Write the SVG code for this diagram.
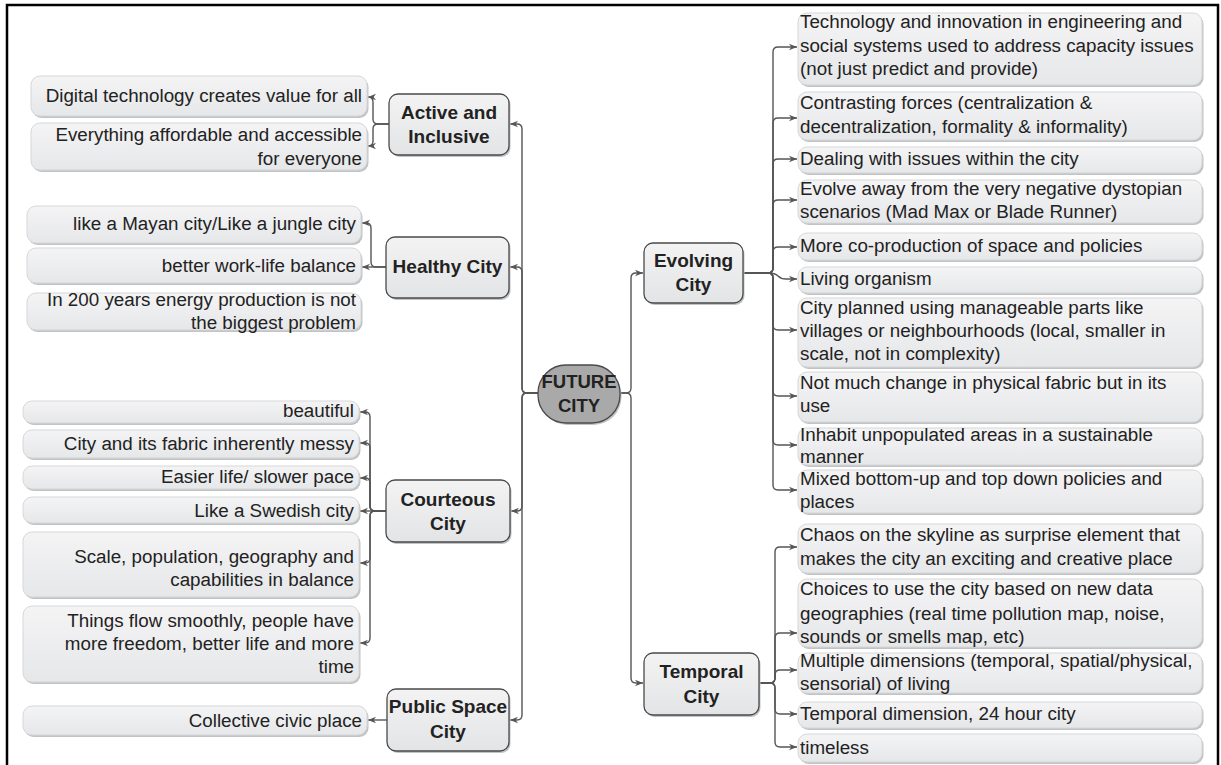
<svg xmlns="http://www.w3.org/2000/svg" width="1221" height="765" viewBox="0 0 1221 765">
<style>
.frame{fill:#fff;stroke:#000;stroke-width:2.5}
.sh{fill:#c2c3c5}
.leaf{fill:url(#lg);stroke:#d6d7d9;stroke-width:1}
.node{fill:url(#ng);stroke:#4a4a4a;stroke-width:1.3}
.center{fill:#a9a9a9;stroke:#4a4a4a;stroke-width:1.3}
.t{font-family:"Liberation Sans",Arial,sans-serif;font-size:18.8px;fill:#222}
.r{text-anchor:end}
.b{font-family:"Liberation Sans",Arial,sans-serif;font-size:19px;font-weight:bold;fill:#222;text-anchor:middle}
.bc{font-size:18.5px}
.c{fill:none;stroke:#555;stroke-width:1.4;marker-end:url(#ah)}
</style>
<defs>
<linearGradient id="lg" x1="0" y1="0" x2="0" y2="1"><stop offset="0" stop-color="#f4f4f5"/><stop offset="1" stop-color="#e6e7e9"/></linearGradient>
<linearGradient id="ng" x1="0" y1="0" x2="0" y2="1"><stop offset="0" stop-color="#f3f3f3"/><stop offset="1" stop-color="#e3e4e6"/></linearGradient>
<marker id="ah" viewBox="0 0 10 10" refX="10" refY="5" markerWidth="8" markerHeight="8" markerUnits="userSpaceOnUse" orient="auto"><path d="M0,1 L10,5 L0,9 L3,5 z" fill="#555"/></marker>
</defs>
<rect class="frame" x="7" y="5" width="1211" height="800"/>

<g id="connectors">
<path class="c" d="M538,393 H527 Q522,393 522,388 V129 Q522,124 517,124 H510"/>
<path class="c" d="M538,393 H527 Q522,393 522,388 V272 Q522,267 517,267 H510"/>
<path class="c" d="M538,393 H527 Q522,393 522,398 V506 Q522,511 517,511 H511"/>
<path class="c" d="M538,393 H527 Q522,393 522,398 V715 Q522,720 517,720 H510"/>
<path class="c" d="M620,393 H626 Q631,393 631,388 V278 Q631,273 636,273 H643"/>
<path class="c" d="M620,393 H626 Q631,393 631,398 V678 Q631,683 636,683 H643"/>
<path class="c" d="M389,124 H378 Q373,124 373,119 V102 Q373,97 368,97"/>
<path class="c" d="M389,124 H378 Q373,124 373,129 V141 Q373,146 368,146"/>
<path class="c" d="M386,267 H376 Q371,267 371,262 V228 Q371,223 366,223 H362"/>
<path class="c" d="M386,267 H362"/>
<path class="c" d="M386,511 H375 Q370,511 370,506 V417 Q370,412 365,412 H360"/>
<path class="c" d="M386,511 H375 Q370,511 370,506 V448 Q370,443 365,443 H360"/>
<path class="c" d="M386,511 H375 Q370,511 370,506 V483 Q370,478 365,478 H360"/>
<path class="c" d="M386,511 H360"/>
<path class="c" d="M386,511 H375 Q370,511 370,516 V558 Q370,563 365,563 H360"/>
<path class="c" d="M386,511 H375 Q370,511 370,516 V638 Q370,643 365,643 H360"/>
<path class="c" d="M387,720 H368"/>
<path class="c" d="M743,273 H768 Q773,273 773,268 V52 Q773,47 778,47 H797"/>
<path class="c" d="M743,273 H768 Q773,273 773,268 V123 Q773,118 778,118 H797"/>
<path class="c" d="M743,273 H768 Q773,273 773,268 V164 Q773,159 778,159 H797"/>
<path class="c" d="M743,273 H768 Q773,273 773,268 V205 Q773,200 778,200 H797"/>
<path class="c" d="M743,273 H768 Q773,273 773,268 V252 Q773,247 778,247 H797"/>
<path class="c" d="M743,273 H768 Q775,273 778,276 Q781,279 786,279 H797"/>
<path class="c" d="M743,273 H768 Q773,273 773,278 V325 Q773,330 778,330 H797"/>
<path class="c" d="M743,273 H768 Q773,273 773,278 V391 Q773,396 778,396 H797"/>
<path class="c" d="M743,273 H768 Q773,273 773,278 V440 Q773,445 778,445 H797"/>
<path class="c" d="M743,273 H768 Q773,273 773,278 V485 Q773,490 778,490 H797"/>
<path class="c" d="M759,683 H770 Q775,683 775,678 V552 Q775,547 780,547 H797"/>
<path class="c" d="M759,683 H770 Q775,683 775,678 V638 Q775,633 780,633 H797"/>
<path class="c" d="M759,683 H770 Q775,683 775,678 V675 Q775,670 780,670 H797"/>
<path class="c" d="M759,683 H770 Q775,683 775,688 V709 Q775,714 780,714 H797"/>
<path class="c" d="M759,683 H770 Q775,683 775,688 V742 Q775,747 780,747 H797"/>
</g>

<g id="center">
<rect class="sh" x="539.5" y="367" width="82" height="58" rx="28"/>
<rect class="center" x="538" y="365" width="82" height="58" rx="28"/>
<text class="b bc" x="579" y="388">FUTURE</text>
<text class="b bc" x="579" y="412">CITY</text>
</g>

<g id="active">
<rect class="sh" x="390.5" y="96" width="120" height="61" rx="9"/>
<rect class="node" x="389" y="94" width="120" height="61" rx="9"/>
<text class="b" x="449" y="119">Active and</text>
<text class="b" x="449" y="143">Inclusive</text>
</g>
<g id="healthy">
<rect class="sh" x="387.5" y="239" width="123" height="61" rx="9"/>
<rect class="node" x="386" y="237" width="123" height="61" rx="9"/>
<text class="b" x="447.5" y="273">Healthy City</text>
</g>
<g id="courteous">
<rect class="sh" x="387.5" y="482" width="124" height="62" rx="9"/>
<rect class="node" x="386" y="480" width="124" height="62" rx="9"/>
<text class="b" x="448" y="506">Courteous</text>
<text class="b" x="448" y="530">City</text>
</g>
<g id="public">
<rect class="sh" x="388.5" y="691" width="122" height="62" rx="9"/>
<rect class="node" x="387" y="689" width="122" height="62" rx="9"/>
<text class="b" x="448" y="713">Public Space</text>
<text class="b" x="448" y="738">City</text>
</g>
<g id="evolving">
<rect class="sh" x="645.5" y="245" width="99" height="60" rx="9"/>
<rect class="node" x="644" y="243" width="99" height="60" rx="9"/>
<text class="b" x="693.5" y="267">Evolving</text>
<text class="b" x="693.5" y="291">City</text>
</g>
<g id="temporal">
<rect class="sh" x="645.5" y="655" width="115" height="62" rx="9"/>
<rect class="node" x="644" y="653" width="115" height="62" rx="9"/>
<text class="b" x="701.5" y="678">Temporal</text>
<text class="b" x="701.5" y="703">City</text>
</g>

<g id="a1"><rect class="sh" x="32.5" y="78" width="336" height="40" rx="9"/><rect class="leaf" x="31" y="76" width="336" height="40" rx="9"/>
<text class="t r" x="362" y="102">Digital technology creates value for all</text></g>
<g id="a2"><rect class="sh" x="32.5" y="125" width="336" height="47" rx="9"/><rect class="leaf" x="31" y="123" width="336" height="47" rx="9"/>
<text class="t r" x="362" y="141">Everything affordable and accessible</text><text class="t r" x="362" y="165">for everyone</text></g>
<g id="h1"><rect class="sh" x="28.5" y="208" width="334" height="37" rx="9"/><rect class="leaf" x="27" y="206" width="334" height="37" rx="9"/>
<text class="t r" x="356" y="230">like a Mayan city/Like a jungle city</text></g>
<g id="h2"><rect class="sh" x="28.5" y="250" width="334" height="35" rx="9"/><rect class="leaf" x="27" y="248" width="334" height="35" rx="9"/>
<text class="t r" x="356" y="272">better work-life balance</text></g>
<g id="h3"><rect class="sh" x="28.5" y="295" width="334" height="37" rx="9"/><rect class="leaf" x="27" y="293" width="334" height="37" rx="9"/>
<text class="t r" x="356" y="306">In 200 years energy production is not</text><text class="t r" x="356" y="329">the biggest problem</text></g>
<g id="c1"><rect class="sh" x="24.5" y="403" width="336" height="22" rx="9"/><rect class="leaf" x="23" y="401" width="336" height="22" rx="9"/>
<text class="t r" x="354" y="417">beautiful</text></g>
<g id="c2"><rect class="sh" x="24.5" y="432" width="336" height="28" rx="9"/><rect class="leaf" x="23" y="430" width="336" height="28" rx="9"/>
<text class="t r" x="354" y="450">City and its fabric inherently messy</text></g>
<g id="c3"><rect class="sh" x="24.5" y="468" width="336" height="23" rx="9"/><rect class="leaf" x="23" y="466" width="336" height="23" rx="9"/>
<text class="t r" x="354" y="483">Easier life/ slower pace</text></g>
<g id="c4"><rect class="sh" x="24.5" y="499" width="336" height="26" rx="9"/><rect class="leaf" x="23" y="497" width="336" height="26" rx="9"/>
<text class="t r" x="354" y="517">Like a Swedish city</text></g>
<g id="c5"><rect class="sh" x="24.5" y="534" width="336" height="65" rx="9"/><rect class="leaf" x="23" y="532" width="336" height="65" rx="9"/>
<text class="t r" x="354" y="563">Scale, population, geography and</text><text class="t r" x="354" y="586">capabilities in balance</text></g>
<g id="c6"><rect class="sh" x="24.5" y="608" width="336" height="76" rx="9"/><rect class="leaf" x="23" y="606" width="336" height="76" rx="9"/>
<text class="t r" x="354" y="627">Things flow smoothly, people have</text><text class="t r" x="354" y="650">more freedom, better life and more</text><text class="t r" x="354" y="673">time</text></g>
<g id="p1"><rect class="sh" x="24.5" y="708" width="344" height="29" rx="9"/><rect class="leaf" x="23" y="706" width="344" height="29" rx="9"/>
<text class="t r" x="362" y="727">Collective civic place</text></g>

<g id="e1"><rect class="sh" x="799.5" y="15" width="404" height="72" rx="9"/><rect class="leaf" x="798" y="13" width="404" height="72" rx="9"/>
<text class="t" x="800" y="28">Technology and innovation in engineering and</text><text class="t" x="800" y="52">social systems used to address capacity issues</text><text class="t" x="800" y="75">(not just predict and provide)</text></g>
<g id="e2"><rect class="sh" x="799.5" y="94" width="404" height="48" rx="9"/><rect class="leaf" x="798" y="92" width="404" height="48" rx="9"/>
<text class="t" x="800" y="109">Contrasting forces (centralization &amp;</text><text class="t" x="800" y="133">decentralization, formality &amp; informality)</text></g>
<g id="e3"><rect class="sh" x="799.5" y="149" width="404" height="26" rx="9"/><rect class="leaf" x="798" y="147" width="404" height="26" rx="9"/>
<text class="t" x="800" y="165">Dealing with issues within the city</text></g>
<g id="e4"><rect class="sh" x="799.5" y="182" width="404" height="43" rx="9"/><rect class="leaf" x="798" y="180" width="404" height="43" rx="9"/>
<text class="t" x="800" y="195">Evolve away from the very negative dystopian</text><text class="t" x="800" y="218">scenarios (Mad Max or Blade Runner)</text></g>
<g id="e5"><rect class="sh" x="799.5" y="235" width="404" height="27" rx="9"/><rect class="leaf" x="798" y="233" width="404" height="27" rx="9"/>
<text class="t" x="800" y="252">More co-production of space and policies</text></g>
<g id="e6"><rect class="sh" x="799.5" y="269" width="404" height="26" rx="9"/><rect class="leaf" x="798" y="267" width="404" height="26" rx="9"/>
<text class="t" x="800" y="285">Living organism</text></g>
<g id="e7"><rect class="sh" x="799.5" y="300" width="404" height="69" rx="9"/><rect class="leaf" x="798" y="298" width="404" height="69" rx="9"/>
<text class="t" x="800" y="314">City planned using manageable parts like</text><text class="t" x="800" y="337">villages or neighbourhoods (local, smaller in</text><text class="t" x="800" y="360">scale, not in complexity)</text></g>
<g id="e8"><rect class="sh" x="799.5" y="374" width="404" height="50" rx="9"/><rect class="leaf" x="798" y="372" width="404" height="50" rx="9"/>
<text class="t" x="800" y="389">Not much change in physical fabric but in its</text><text class="t" x="800" y="412">use</text></g>
<g id="e9"><rect class="sh" x="799.5" y="430" width="404" height="37" rx="9"/><rect class="leaf" x="798" y="428" width="404" height="37" rx="9"/>
<text class="t" x="800" y="441">Inhabit unpopulated areas in a sustainable</text><text class="t" x="800" y="463">manner</text></g>
<g id="e10"><rect class="sh" x="799.5" y="472" width="404" height="43" rx="9"/><rect class="leaf" x="798" y="470" width="404" height="43" rx="9"/>
<text class="t" x="800" y="485">Mixed bottom-up and top down policies and</text><text class="t" x="800" y="508">places</text></g>
<g id="t1"><rect class="sh" x="799.5" y="526" width="404" height="49" rx="9"/><rect class="leaf" x="798" y="524" width="404" height="49" rx="9"/>
<text class="t" x="800" y="541">Chaos on the skyline as surprise element that</text><text class="t" x="800" y="565">makes the city an exciting and creative place</text></g>
<g id="t2"><rect class="sh" x="799.5" y="581" width="404" height="68" rx="9"/><rect class="leaf" x="798" y="579" width="404" height="68" rx="9"/>
<text class="t" x="800" y="595">Choices to use the city based on new data</text><text class="t" x="800" y="620">geographies (real time pollution map, noise,</text><text class="t" x="800" y="643">sounds or smells map, etc)</text></g>
<g id="t3"><rect class="sh" x="799.5" y="655" width="404" height="40" rx="9"/><rect class="leaf" x="798" y="653" width="404" height="40" rx="9"/>
<text class="t" x="800" y="667">Multiple dimensions (temporal, spatial/physical,</text><text class="t" x="800" y="690">sensorial) of living</text></g>
<g id="t4"><rect class="sh" x="799.5" y="704" width="404" height="26" rx="9"/><rect class="leaf" x="798" y="702" width="404" height="26" rx="9"/>
<text class="t" x="800" y="720">Temporal dimension, 24 hour city</text></g>
<g id="t5"><rect class="sh" x="799.5" y="736" width="404" height="28" rx="9"/><rect class="leaf" x="798" y="734" width="404" height="28" rx="9"/>
<text class="t" x="800" y="754">timeless</text></g>
</svg>
